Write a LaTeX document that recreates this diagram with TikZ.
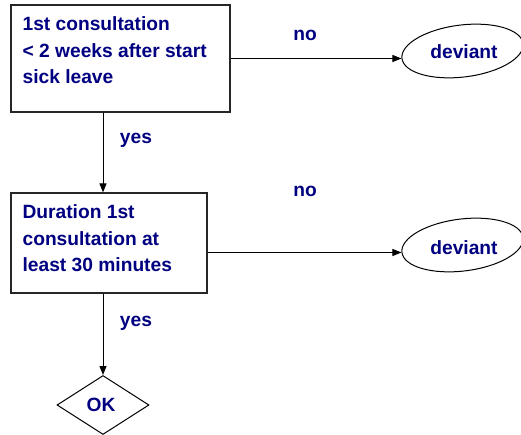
\documentclass[tikz,border=0pt]{standalone}
\usepackage{fontspec}
\setmainfont{Liberation Sans}
\usetikzlibrary{arrows.meta,shapes.geometric}
\definecolor{txtblue}{HTML}{000080}
\tikzset{
  box/.style={draw=black!85, line width=1.2pt, rectangle, inner sep=0pt},
  boxtext/.style={anchor=north west, inner sep=0pt, align=left, text=txtblue,
    font=\fontsize{19.2}{26.5}\selectfont\bfseries},
  lbl/.style={inner sep=0pt, text=txtblue, font=\fontsize{19.2}{23}\selectfont\bfseries},
  oval/.style={draw=black, line width=1pt, ellipse, inner sep=0pt,
    minimum width=122pt, minimum height=52pt, rotate=7},
  okdiamond/.style={draw=black, line width=1pt, diamond, inner sep=0pt,
    minimum width=92pt, minimum height=59pt},
  arr/.style={line width=1pt, -{Triangle[length=9pt,width=7pt]}},
}
\begin{document}
\begin{tikzpicture}[x=1pt,y=-1pt]
\useasboundingbox (0,0) rectangle (521,435);
% boxes
\node[box, minimum width=219pt, minimum height=107pt] (b1) at (120.5,58.5) {};
\node[boxtext] (t1) at ([xshift=12pt,yshift=-12pt]b1.north west)
  {1st consultation\\< 2 weeks after start\\sick leave};
\node[box, minimum width=196pt, minimum height=100pt] (b2) at (109,243) {};
\node[boxtext] (t2) at ([xshift=12pt,yshift=-12pt]b2.north west)
  {Duration 1st\\consultation at\\least 30 minutes};
% ellipses
\node[oval] (e1) at (462.5,51) {};
\node[lbl] (d1) at (464,52) {deviant};
\node[oval] (e2) at (462.5,245) {};
\node[lbl] (d2) at (464,248) {deviant};
% diamond
\node[okdiamond] (ok) at (103,405) {};
\node[lbl] (okt) at (101,405) {OK};
% labels
\node[lbl] (no1) at (305,35) {no};
\node[lbl] (yes1) at (136,140) {yes};
\node[lbl] (no2) at (305,191) {no};
\node[lbl] (yes2) at (136,323) {yes};
% connectors
\coordinate (c1) at (103,0);
\draw[arr] (b1.east |- e1.west) -- (e1.west);
\draw[arr] (b2.east |- e2.west) -- (e2.west);
\draw[arr] (b1.south -| c1) -- (b2.north -| c1);
\draw[arr] (b2.south -| c1) -- (ok.north);
\end{tikzpicture}
\end{document}
